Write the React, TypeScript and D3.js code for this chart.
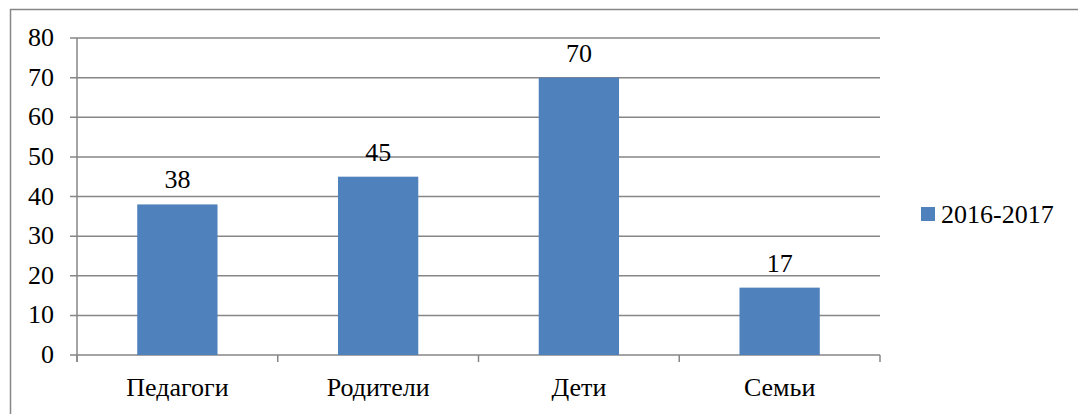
import React from 'react';
import { scaleBand, scaleLinear } from 'd3';

const categories = ['Педагоги', 'Родители', 'Дети', 'Семьи'];
const values2016 = [38, 45, 70, 17];
const yTicks = [0, 10, 20, 30, 40, 50, 60, 70, 80];
const seriesName = '2016-2017';

const W = 1078;
const H = 414;
const left = 77;
const right = 880;
const top = 38;
const bottom = 355;
const font = 'Liberation Serif, DejaVu Serif, serif';
const grid = '#868686';
const barColor = '#4F81BD';

export default function App() {
  const x = scaleBand<string>()
    .domain(categories)
    .range([left, right])
    .paddingInner(0.6)
    .paddingOuter(0.3);

  const y = scaleLinear().domain([0, 80]).range([bottom, top]);

  const step = x.step();
  // category boundaries for the x-axis tick marks
  const bounds = categories.map((c) => (x(c) as number) - (step - x.bandwidth()) / 2);
  bounds.push(right);

  const txt = { fontFamily: font, fontSize: 26, fill: '#000' };

  return (
    <svg
      width={W}
      height={H}
      style={{ position: 'absolute', left: 0, top: 0, background: '#fff' }}
    >
      {/* outer frame */}
      <rect x={10.5} y={9.5} width={1100} height={500} fill="none" stroke={grid} strokeWidth={1.5} />

      {/* gridlines + y ticks */}
      {yTicks.map((t) => (
        <g key={t}>
          <line x1={left - 7} x2={right} y1={y(t)} y2={y(t)} stroke={grid} strokeWidth={1.5} />
          <text x={54} y={y(t) + 8} textAnchor="end" style={txt}>
            {t}
          </text>
        </g>
      ))}

      {/* y axis */}
      <line x1={left} x2={left} y1={top} y2={bottom + 7} stroke={grid} strokeWidth={1.5} />

      {/* x ticks */}
      {bounds.map((b, i) => (
        <line key={i} x1={b} x2={b} y1={bottom} y2={bottom + 7} stroke={grid} strokeWidth={1.5} />
      ))}

      {/* bars */}
      {categories.map((c, i) => (
        <rect
          key={c}
          x={x(c)}
          y={y(values2016[i])}
          width={x.bandwidth()}
          height={bottom - y(values2016[i])}
          fill={barColor}
        />
      ))}

      {/* data labels */}
      {categories.map((c, i) => (
        <text
          key={c}
          x={(x(c) as number) + x.bandwidth() / 2}
          y={y(values2016[i]) - 16}
          textAnchor="middle"
          style={txt}
        >
          {values2016[i]}
        </text>
      ))}

      {/* category labels */}
      {categories.map((c) => (
        <text
          key={c}
          x={(x(c) as number) + x.bandwidth() / 2}
          y={396}
          textAnchor="middle"
          style={txt}
        >
          {c}
        </text>
      ))}

      {/* legend */}
      <rect x={921} y={207} width={14} height={14} fill={barColor} />
      <text x={941} y={223} style={txt}>
        {seriesName}
      </text>
    </svg>
  );
}
